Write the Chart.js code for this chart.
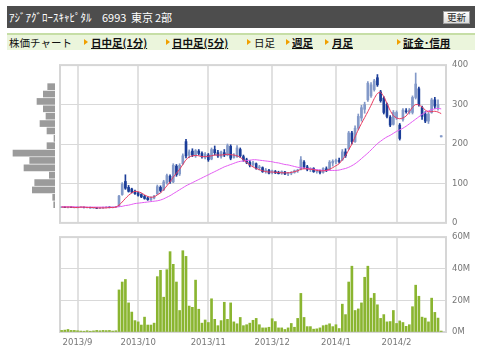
<!DOCTYPE html>
<html><head><meta charset="utf-8">
<script src="https://cdn.jsdelivr.net/npm/chart.js@4.4.1/dist/chart.umd.min.js"></script>
<style>
html,body{margin:0;padding:0;background:#fff;width:480px;height:359px;overflow:hidden;font-family:"Noto Sans CJK JP",sans-serif;}
.abs{position:absolute;white-space:pre;}
#hdr{position:absolute;left:7px;top:6px;width:468px;height:22px;background:#4d4d4d;}
.tt{color:#fff;font-size:11px;line-height:22px;top:6px;}
#btn{position:absolute;left:443px;top:11px;width:25px;height:11px;background:linear-gradient(#ffffff,#dcdcdc);border:1px solid #9a9a9a;font-size:9.5px;line-height:11px;text-align:center;color:#222;}
#nav{position:absolute;left:7px;top:33px;width:468px;height:15px;background:#ebf5dc;border-top:2px solid #c6dea6;}
.nv{font-size:10.5px;line-height:15px;top:35px;color:#111;}
.lk{font-weight:bold;text-decoration:underline;}
.tri{position:absolute;top:39px;width:0;height:0;border-left:4px solid #f0a000;border-top:3px solid transparent;border-bottom:3px solid transparent;}
canvas{position:absolute;}
</style></head>
<body>
<div id="hdr"></div>
<span class="abs tt" style="left:9px">ｱｼﾞｱｸﾞﾛｰｽｷｬﾋﾟﾀﾙ</span>
<span class="abs tt" style="left:102px">6993</span>
<span class="abs tt" style="left:131px">東京</span>
<span class="abs tt" style="left:155px">2部</span>
<div id="btn">更新</div>
<div id="nav"></div>
<span class="abs nv" style="left:9px">株価チャート</span>
<div class="tri" style="left:84px"></div><span class="abs nv lk" style="left:91px">日中足(1分)</span>
<div class="tri" style="left:166px"></div><span class="abs nv lk" style="left:172px">日中足(5分)</span>
<div class="tri" style="left:247px"></div><span class="abs nv" style="left:254px">日足</span>
<div class="tri" style="left:286px"></div><span class="abs nv lk" style="left:292px">週足</span>
<div class="tri" style="left:325px"></div><span class="abs nv lk" style="left:332px">月足</span>
<div class="tri" style="left:397px"></div><span class="abs nv lk" style="left:403px">証金･信用</span>

<canvas id="price" width="480" height="180" style="left:0;top:54px"></canvas>
<canvas id="profile" width="60" height="180" style="left:0;top:54px"></canvas>
<canvas id="vol" width="480" height="133" style="left:0;top:226px"></canvas>

<script>
const dates = [
'2013/8/26','2013/8/27','2013/8/28','2013/8/29','2013/8/30',
'2013/9/2','2013/9/3','2013/9/4','2013/9/5','2013/9/6','2013/9/9','2013/9/10','2013/9/11','2013/9/12','2013/9/13','2013/9/17','2013/9/18','2013/9/19','2013/9/20','2013/9/24','2013/9/25','2013/9/26','2013/9/27','2013/9/30',
'2013/10/1','2013/10/2','2013/10/3','2013/10/4','2013/10/7','2013/10/8','2013/10/9','2013/10/10','2013/10/11','2013/10/15','2013/10/16','2013/10/17','2013/10/18','2013/10/21','2013/10/22','2013/10/23','2013/10/24','2013/10/25','2013/10/28','2013/10/29','2013/10/30','2013/10/31',
'2013/11/1','2013/11/5','2013/11/6','2013/11/7','2013/11/8','2013/11/11','2013/11/12','2013/11/13','2013/11/14','2013/11/15','2013/11/18','2013/11/19','2013/11/20','2013/11/21','2013/11/22','2013/11/25','2013/11/26','2013/11/27','2013/11/28','2013/11/29',
'2013/12/2','2013/12/3','2013/12/4','2013/12/5','2013/12/6','2013/12/9','2013/12/10','2013/12/11','2013/12/12','2013/12/13','2013/12/16','2013/12/17','2013/12/18','2013/12/19','2013/12/20','2013/12/24','2013/12/25','2013/12/26','2013/12/27','2013/12/30',
'2014/1/6','2014/1/7','2014/1/8','2014/1/9','2014/1/10','2014/1/14','2014/1/15','2014/1/16','2014/1/17','2014/1/20','2014/1/21','2014/1/22','2014/1/23','2014/1/24','2014/1/27','2014/1/28','2014/1/29','2014/1/30','2014/1/31',
'2014/2/3','2014/2/4','2014/2/5','2014/2/6','2014/2/7','2014/2/10','2014/2/12','2014/2/13','2014/2/14','2014/2/17','2014/2/18','2014/2/19','2014/2/20','2014/2/21','2014/2/24','2014/2/25'];

const monthTickDates = ['2013/9/2','2013/10/1','2013/11/1','2013/12/2','2014/1/6','2014/2/3'];
const monthTickLabels = ['2013/9','2013/10','2013/11','2013/12','2014/1','2014/2'];

const openP = [40,40,39,40,39,39,40,40,39,39,38,38,37,38,39,40,39,40,42,72,
105,90,86,80,76,72,67,63,58,63,74,90,84,102,118,104,144,124,150,206,
172,182,170,182,176,166,172,162,186,178,168,178,172,194,166,168,186,168,160,154,
148,150,140,140,132,133,128,130,128,126,129,124,126,128,132,136,154,142,136,138,
130,132,128,137,136,152,156,158,160,180,188,228,206,240,266,288,312,322,338,368,
332,316,300,268,250,266,248,262,284,280,280,318,340,292,276,258,280,312,290,218];
const highP = [41,41,40,41,40,41,41,40,40,40,39,39,39,40,41,41,40,42,70,102,
122,95,88,83,78,74,70,66,66,70,96,94,108,124,122,150,148,150,175,212,
185,188,186,186,180,178,176,190,195,184,182,186,200,198,176,196,190,172,164,158,
156,152,146,142,138,136,134,133,131,132,131,128,130,134,136,168,158,146,140,140,
134,134,140,142,158,160,162,164,186,188,232,232,246,276,298,306,358,356,364,376,
336,320,304,272,285,284,252,290,290,290,322,380,344,296,282,280,316,318,312,221];
const lowP = [39,39,38,39,38,38,39,38,38,38,37,36,36,37,38,38,38,39,41,70,
85,78,76,72,68,64,60,57,57,61,72,78,82,98,100,102,118,120,148,165,
165,168,166,172,164,162,156,160,172,166,164,168,170,160,164,166,166,156,150,142,
144,136,134,128,126,124,124,125,124,123,122,120,122,126,128,134,138,132,130,128,
126,124,126,130,134,144,150,152,158,166,186,200,204,236,258,278,308,318,334,346,
306,276,266,244,248,262,210,258,278,276,276,314,296,262,254,252,278,290,286,218];
const closeP = [40,39,40,39,39,40,40,39,39,38,38,37,38,39,40,39,40,41,68,98,
88,80,78,74,70,66,62,59,64,68,92,82,104,120,104,146,122,146,170,170,
180,172,183,176,168,174,160,186,178,170,180,172,196,164,172,190,170,160,154,146,
152,138,142,130,134,126,132,127,125,130,124,126,128,132,134,160,142,136,138,130,
132,128,138,134,154,156,158,156,180,170,228,206,240,270,292,300,354,350,360,350,
310,280,270,248,280,280,214,286,282,286,318,352,300,270,258,276,312,296,300,221];

const ma5 = [40,40,40,40,39,39,40,40,39,39,39,38,38,38,38,39,39,40,45,53,
62,70,76,80,79,76,71,67,65,66,71,76,84,94,104,116,126,136,148,160,
167,170,171,170,168,168,169,170,172,172,172,173,174,173,172,170,166,160,153,147,
142,138,135,132,130,129,129,128,128,127,127,127,128,130,132,136,137,137,136,135,
133,132,132,133,136,140,145,150,160,170,185,200,218,236,252,267,282,298,315,328,
331,320,303,285,272,266,264,266,271,282,293,300,299,294,286,282,282,283,281,277];
const ma25 = [41,41,41,41,41,40,40,40,40,40,40,40,40,40,40,40,40,40,41,42,
44,45,47,49,50,51,52,53,54,55,56,58,61,65,69,74,79,84,89,94,
98,102,106,110,114,118,122,126,130,134,138,142,145,148,151,154,156,157,158,159,
160,160,159,158,157,156,155,153,152,150,148,147,145,143,141,140,139,138,137,136,
135,134,133,133,133,133,133,134,136,138,141,145,150,156,163,170,177,185,193,201,
207,213,218,222,227,232,236,240,245,251,257,263,269,275,280,284,287,289,290,289];

const volume = [1.0,1.2,1.6,1.0,1.0,0.8,0.6,0.5,0.8,0.5,0.7,1.0,0.8,1.0,0.9,1.0,0.6,0.8,
26.6,31.6,33.2,18.4,12.6,7.2,6.4,4.4,9.4,4.4,4.4,5.6,35,39,22,39.4,50.8,42.8,31.6,13.6,51.4,47.8,
16.4,15.6,32.8,14.4,5.6,7.6,6,21,8,4,7.2,18.8,8,18.4,6.4,5.2,
9.2,4,4.6,5.6,7.4,8.6,4.6,2.6,2.6,3,8.4,6.6,2.6,2.6,1.6,2.6,5.4,3,8.6,24.4,
9.2,3.4,3.4,1.8,2,2.6,4,4.4,5.2,3.4,4.6,2.2,17.6,11,31.6,41.6,13.6,14.6,18.4,34.6,
41.6,21.4,24.4,17.2,8.6,11,6.4,6.6,13.6,5.4,7,6,3.6,4.6,16,29.6,22.6,9.4,8.8,6.4,
21.4,12.4,8.8,0.6];

const profilePrices = [350,330,310,290,270,250,230,210,190,170,150,130,110,90,70,50,30];
const profileVolumes = [73,117,180,117,90,150,80,10,80,420,253,310,57,203,227,23,13];

const priceTickStep = 100;
const volTickStep = 20;

const LIGHT = '#8399c8', DARK = '#1b3d98';
const isUp = closeP.map((c, i) => c >= openP[i]);
const candleColors = isUp.map(u => u ? LIGHT : DARK);

const axisFont = {family: 'DejaVu Sans', size: 8.5};
const gridX = ctx => monthTickDates.includes(dates[ctx.index]) ? '#e1e1e1' : 'rgba(0,0,0,0)';

const framePlugin = {
  id: 'frame',
  beforeDatasetsDraw(chart) {
    const {ctx, chartArea: a} = chart;
    ctx.save();
    ctx.strokeStyle = '#d6d6d6';
    ctx.lineWidth = 2;
    ctx.strokeRect(a.left, a.top, a.right - a.left, a.bottom - a.top);
    ctx.restore();
  }
};

new Chart(document.getElementById('price'), {
  type: 'bar',
  data: {
    labels: dates,
    datasets: [
      {type: 'line', data: ma5, borderColor: '#e8385e', borderWidth: 1, pointRadius: 0, tension: 0.25, fill: false},
      {type: 'line', data: ma25, borderColor: '#e35af2', borderWidth: 1, pointRadius: 0, tension: 0.25, fill: false},
      {data: openP.map((o, i) => [o, closeP[i]]), backgroundColor: candleColors, barThickness: 2, grouped: false},
      {data: lowP.map((l, i) => [l, highP[i]]), backgroundColor: candleColors, barThickness: 1, grouped: false}
    ]
  },
  options: {
    responsive: false, animation: false, devicePixelRatio: 1,
    layout: {padding: {left: 60, right: 0, top: 5, bottom: 9}},
    plugins: {legend: {display: false}, tooltip: {enabled: false}},
    scales: {
      x: {type: 'category', offset: true,
          grid: {offset: false, color: gridX, lineWidth: 2, drawTicks: false},
          border: {display: false},
          ticks: {display: false, autoSkip: false},
          afterFit(s) { s.height = 0; }},
      y: {position: 'right', min: 0, max: 400,
          ticks: {stepSize: priceTickStep, padding: 6, color: '#777', font: axisFont},
          grid: {color: '#d9d9d9', lineWidth: 1, drawTicks: false},
          border: {display: false},
          afterFit(s) { s.width = 34; }}
    }
  },
  plugins: [framePlugin]
});

new Chart(document.getElementById('profile'), {
  type: 'bar',
  data: {
    datasets: [{
      data: profilePrices.map((p, i) => ({x: profileVolumes[i], y: p})),
      backgroundColor: '#9b9b9b', barThickness: 6
    }]
  },
  options: {
    indexAxis: 'y',
    responsive: false, animation: false, devicePixelRatio: 1,
    layout: {padding: {left: 0, right: 5, top: 5, bottom: 9}},
    plugins: {legend: {display: false}, tooltip: {enabled: false}},
    scales: {
      x: {type: 'linear', min: 0, max: 550, reverse: true, display: false},
      y: {type: 'linear', min: 0, max: 400, display: false}
    }
  }
});

new Chart(document.getElementById('vol'), {
  type: 'bar',
  data: {
    labels: dates,
    datasets: [{data: volume, backgroundColor: '#8ab530', barThickness: 2}]
  },
  options: {
    responsive: false, animation: false, devicePixelRatio: 1,
    layout: {padding: {left: 60, right: 0, top: 6, bottom: 0}},
    plugins: {legend: {display: false}, tooltip: {enabled: false}},
    scales: {
      x: {type: 'category', offset: true,
          grid: {offset: false, color: gridX, lineWidth: 2, drawTicks: false},
          border: {display: false},
          ticks: {autoSkip: false, maxRotation: 0, padding: 6, color: '#777', font: axisFont,
                  callback(v, i) { const k = monthTickDates.indexOf(dates[i]); return k >= 0 ? monthTickLabels[k] : ''; }},
          afterFit(s) { s.height = 27; }},
      y: {position: 'right', min: 0, max: 60,
          ticks: {stepSize: volTickStep, padding: 6, color: '#777', font: axisFont, callback: v => v + 'M'},
          grid: {color: '#d9d9d9', lineWidth: 1, drawTicks: false},
          border: {display: false},
          afterFit(s) { s.width = 34; }}
    }
  },
  plugins: [framePlugin]
});
</script>
</body></html>
